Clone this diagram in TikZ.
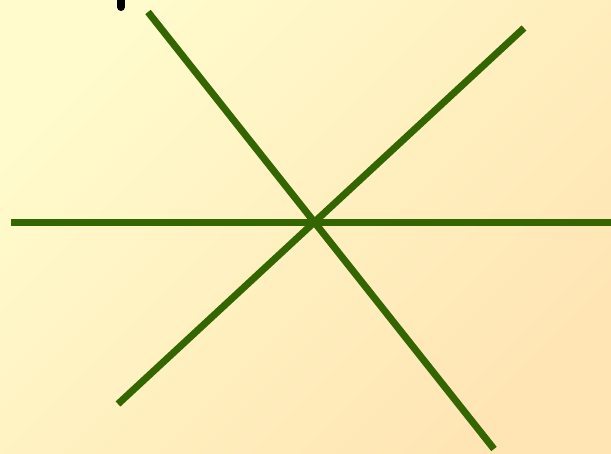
\documentclass[tikz,border=0pt]{standalone}
\usepackage{tikz}
\usepackage{xcolor}
\definecolor{leafgreen}{RGB}{51,102,0}
\definecolor{paleyellow}{RGB}{255,251,204}
\definecolor{paletan}{RGB}{255,229,180}

\begin{document}
\begin{tikzpicture}[
    x=1pt,y=-1pt,
    ray/.style={draw=leafgreen,line width=7pt},
    tick/.style={draw=black,line width=8pt,line cap=round}
]
% Background panel with a soft diagonal gradient.
\shade[top color=paleyellow,bottom color=paletan,shading angle=45]
    (0,0) rectangle (611,453);
\useasboundingbox (0,0) rectangle (611,453);
% Stub of a black stroke at the upper edge.
\draw[tick] (121,-10) -- (121,7);
% Three lines crossing in one point.
\coordinate (centre) at (313,222);
\draw[ray] (11,222) -- (620,222);
\draw[ray] (148,12) -- (494,449);
\draw[ray] (118,404) -- (524,28);
\end{tikzpicture}
\end{document}
